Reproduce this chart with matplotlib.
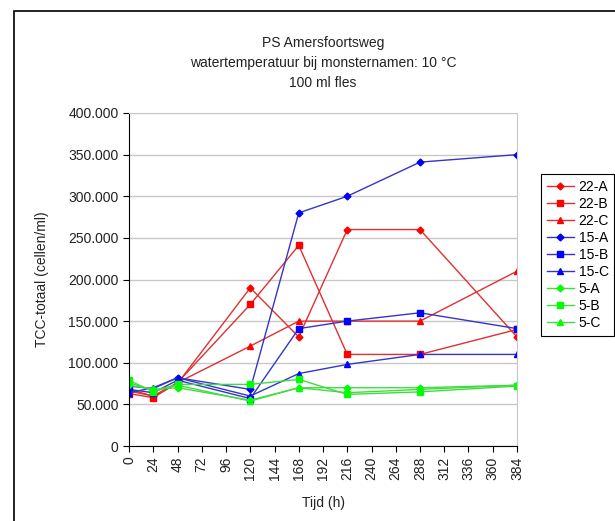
import matplotlib
matplotlib.use("Agg")
import matplotlib.pyplot as plt
from matplotlib.ticker import FuncFormatter, MultipleLocator
from matplotlib.patches import Rectangle

plt.rcParams['font.family'] = ['Liberation Sans', 'DejaVu Sans']

hours = [0, 24, 48, 120, 168, 216, 288, 384]
s22A = [66000, 60000, 75000, 190000, 131000, 260000, 260000, 131000]
s22B = [63000, 58000, 76000, 170000, 241000, 110000, 110000, 140000]
s22C = [68000, 60000, 76000, 120000, 150000, 150000, 150000, 210000]
s15A = [72000, 69000, 82000, 68000, 280000, 300000, 341000, 350000]
s15B = [68000, 64000, 79000, 57000, 141000, 150000, 160000, 141000]
s15C = [64000, 70000, 82000, 60000, 87000, 98000, 110000, 110000]
s5A = [73000, 68000, 70000, 55000, 70000, 70000, 70000, 73000]
s5B = [79000, 65000, 74000, 74000, 80000, 62000, 65000, 72000]
s5C = [76000, 67000, 73000, 54000, 70000, 64000, 68000, 73000]

labels = ['22-A', '22-B', '22-C', '15-A', '15-B', '15-C', '5-A', '5-B', '5-C']
series = [s22A, s22B, s22C, s15A, s15B, s15C, s5A, s5B, s5C]

title_lines = ['PS Amersfoortsweg', 'watertemperatuur bij monsternamen: 10 °C', '100 ml fles']

line_cols = ['#E03030'] * 3 + ['#3535C8'] * 3 + ['#40DD40'] * 3
mark_cols = ['#FF0000'] * 3 + ['#0000FF'] * 3 + ['#00FF00'] * 3
markers = ['D', 's', '^'] * 3
msizes = [3.5, 4.5, 5] * 3

fig = plt.figure(figsize=(6.15, 5.21), dpi=100)
ax = fig.add_axes([129/615, 1-446/521, (517-129)/615, (446-113)/521])

for y, lab, lc, mc, m, ms in zip(series, labels, line_cols, mark_cols, markers, msizes):
    ax.plot(hours, y, color=lc, lw=1, marker=m, ms=ms, mfc=mc, mec=mc, label=lab)

ax.set_xlim(0, 384)
ax.set_ylim(0, 400000)
ax.xaxis.set_major_locator(MultipleLocator(24))
ax.yaxis.set_major_locator(MultipleLocator(50000))
ax.yaxis.set_major_formatter(FuncFormatter(lambda v, p: f"{int(v):,}".replace(',', '.')))
ax.grid(axis='y', color='#C8C8C8', lw=1)
ax.set_axisbelow(True)
ax.tick_params(axis='x', labelrotation=90, direction='out', length=4, labelsize=10, colors='black', labelcolor='#222222')
ax.tick_params(axis='y', direction='out', length=4, labelsize=10, labelcolor='#222222')
ax.spines['top'].set_color('#C8C8C8')
ax.spines['right'].set_color('#C8C8C8')
ax.spines['left'].set_color('black')
ax.spines['bottom'].set_color('black')

ax.set_ylabel('TCC-totaal (cellen/ml)', fontsize=10, color='#222222', labelpad=14)
ax.set_xlabel('Tijd (h)', fontsize=10, color='#222222', labelpad=12)

for i, t in enumerate(title_lines):
    fig.text(323/615, 1-(43+20*i)/521, t, ha='center', va='center', fontsize=10, color='#222222')

leg = fig.legend(loc='upper left', bbox_to_anchor=(541/615, 1-174/521), fontsize=10,
                 frameon=True, fancybox=False, edgecolor='black', framealpha=1,
                 handlelength=2.0, labelspacing=0.22, borderpad=0.4, handletextpad=0.3,
                 borderaxespad=0)
leg.get_frame().set_linewidth(0.8)

fig.patches.append(Rectangle((14/615, -0.05), 1.2, 1-11/521+0.05, transform=fig.transFigure,
                             fill=False, edgecolor='black', lw=1.2))

fig.savefig('out.png', dpi=100)
